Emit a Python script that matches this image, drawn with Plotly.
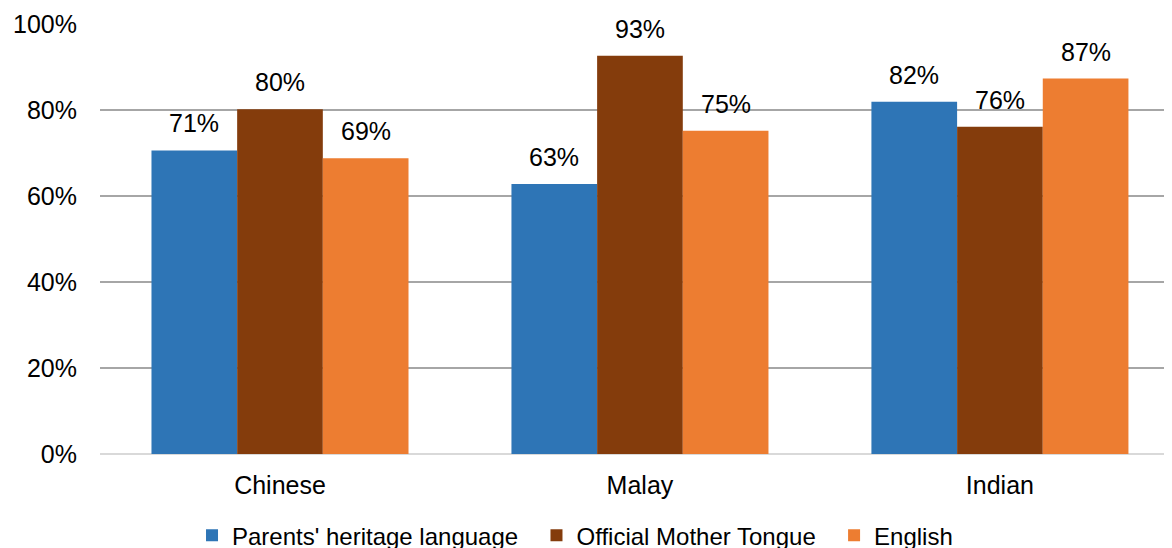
import plotly.graph_objects as go

# données
categories = ["Chinese", "Malay", "Indian"]
heritage = [70.6, 62.8, 81.9]
official = [80.2, 92.6, 76.1]
english = [68.8, 75.2, 87.3]

series = [
    ("Parents' heritage language&nbsp;&nbsp;", heritage, "#2e75b6"),
    ("Official Mother Tongue&nbsp;&nbsp;", official, "#843c0c"),
    ("English", english, "#ed7d31"),
]

xpos = list(range(len(categories)))

fig = go.Figure()
for i, (name, vals, color) in enumerate(series):
    fig.add_trace(go.Bar(
        x=xpos, y=vals, name=name,
        marker=dict(color=color, line=dict(width=0)),
    ))

# la page ajoute 8 px de marge autour du graphique
fig.update_layout(
    width=1172, height=548,
    margin=dict(l=92, r=8, t=16, b=102, autoexpand=False),
    plot_bgcolor="white", paper_bgcolor="white",
    font=dict(family="Liberation Sans, Arial", size=25, color="#000000"),
    barmode="group", bargap=0.286, bargroupgap=0,
    showlegend=True,
    legend=dict(orientation="h", xref="container", x=0.4838, xanchor="center",
                yref="container", y=0.037, yanchor="middle",
                font=dict(size=24), itemwidth=30, traceorder="normal"),
)

# étiquettes au-dessus des barres
group_w = 1 - 0.286
for i, (name, vals, color) in enumerate(series):
    offset = (i - 1) * group_w / 3
    for j, v in enumerate(vals):
        fig.add_annotation(
            x=xpos[j] + offset, y=v, xref="x", yref="y",
            text=f"{round(v)}%", showarrow=False,
            yanchor="bottom", yshift=11,
            font=dict(size=25, color="#000000"),
        )

fig.update_xaxes(range=[-0.5, 2.478], showgrid=False, showline=False,
                 ticks="", tickmode="array", tickvals=xpos, ticktext=categories,
                 ticklabelstandoff=14, tickfont=dict(size=25))
fig.update_yaxes(range=[0, 100], dtick=20, ticksuffix="%", showgrid=True,
                 gridcolor="#a6a6a6", gridwidth=2, zeroline=True,
                 zerolinecolor="#d9d9d9", zerolinewidth=2, ticks="",
                 ticklabelstandoff=22, tickfont=dict(size=25))

fig.write_html("out.html")
